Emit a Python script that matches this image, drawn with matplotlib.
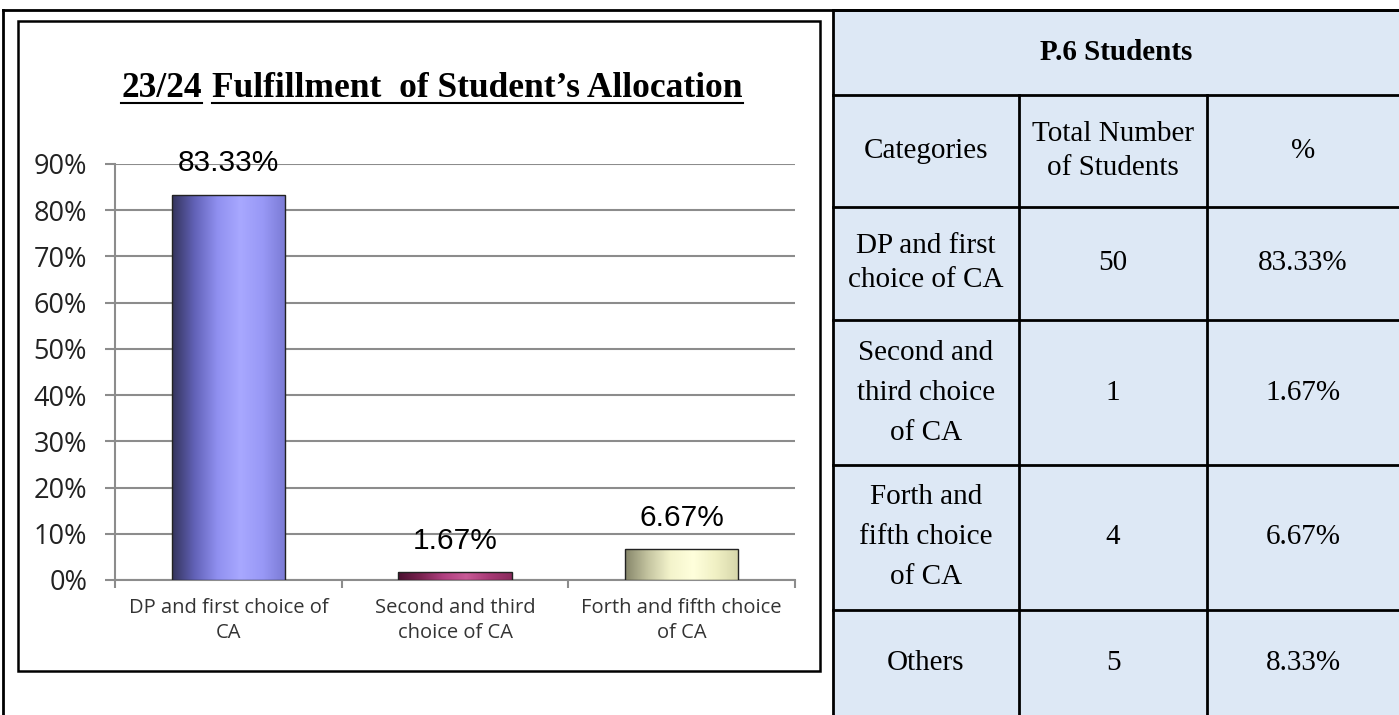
import numpy as np
import matplotlib
matplotlib.use("Agg")
import matplotlib.pyplot as plt
from matplotlib.colors import LinearSegmentedColormap
from matplotlib.ticker import FuncFormatter, FixedLocator

# chart data
categories = ["DP and first choice of\nCA", "Second and third\nchoice of CA", "Forth and fifth choice\nof CA"]
percent = [83.33, 1.67, 6.67]

# table data
table_title = "P.6 Students"
table_header = ["Categories", "Total Number\nof Students", "%"]
table_cats = ["DP and first\nchoice of CA", "Second and\nthird choice\nof CA", "Forth and\nfifth choice\nof CA", "Others"]
table_counts = [50, 1, 4, 5]
table_pct = [83.33, 1.67, 6.67, 8.33]

# cylinder-ish gradients for each bar
bar_grads = [
    ["#34345c", "#6262b8", "#9090f0", "#a8a8ff", "#9898f6", "#7a7ad4"],
    ["#4a1030", "#7a2350", "#b04080", "#c85a96", "#a83a76", "#8a2a5c"],
    ["#86866a", "#c4c4a0", "#f4f4cc", "#ffffdc", "#f0f0c4", "#d6d6aa"],
]

W, H = 1399, 715
fig = plt.figure(figsize=(W / 100, H / 100), dpi=100)


def fx(x):
    return x / W


def fy(y):
    return 1 - y / H


# outer frame lines and chart box
fig.add_artist(plt.Line2D([fx(3), fx(W)], [fy(10), fy(10)], color="black", lw=2))
fig.add_artist(plt.Line2D([fx(3), fx(3)], [fy(10), fy(H)], color="black", lw=2))
fig.add_artist(plt.Rectangle((fx(18), fy(671)), fx(820) - fx(18), fy(21) - fy(671),
                             fill=False, ec="black", lw=1.8))

# ---- bar chart ----
ax = fig.add_axes([fx(115), fy(580), fx(795) - fx(115), fy(164) - fy(580)])
x = np.arange(len(categories))
vals = np.array(percent) / 100
bars = ax.bar(x, vals, width=0.5, color="none", edgecolor="#222222", lw=1, zorder=4)
for i, b in enumerate(bars):
    cmap = LinearSegmentedColormap.from_list("g%d" % i, bar_grads[i])
    grad = np.linspace(0, 1, 256).reshape(1, -1)
    im = ax.imshow(grad, cmap=cmap, aspect="auto", zorder=3,
                   extent=[b.get_x(), b.get_x() + b.get_width(), 0, b.get_height()])
    im.set_clip_path(b)
    ax.annotate(f"{percent[i]:.2f}%", (b.get_x() + b.get_width() / 2, b.get_height()),
                xytext=(0, 17), textcoords="offset points", ha="center", va="baseline",
                fontsize=21.5, family="Liberation Sans", zorder=5)

ax.set_xlim(-0.5, len(categories) - 0.5)
ax.set_ylim(0, 0.9)
ax.yaxis.set_major_locator(FixedLocator(np.arange(0, 0.91, 0.1)))
ax.yaxis.set_major_formatter(FuncFormatter(lambda v, p: f"{v * 100:.0f}%"))
ax.grid(axis="y", color="#8c8c8c", lw=1.5, zorder=0)
ax.set_axisbelow(True)
for s in ["top", "right"]:
    ax.spines[s].set_visible(False)
for s in ["left", "bottom"]:
    ax.spines[s].set_color("#8c8c8c")
    ax.spines[s].set_linewidth(1.5)
ax.tick_params(axis="y", length=7, width=1.5, color="#8c8c8c", pad=13,
               labelsize=19.5, labelcolor="#222222")
ax.set_xticks(x)
ax.set_xticklabels(categories, fontsize=14.5, color="#333333", family="Open Sans", linespacing=1.35)
ax.tick_params(axis="x", which="major", length=0, pad=13)
ax.set_xticks(np.arange(-0.5, len(categories)), minor=True)
ax.tick_params(axis="x", which="minor", length=6, width=1.5, color="#8c8c8c")
for lab in ax.get_yticklabels():
    lab.set_family("Open Sans")

# title with underline, in two pieces like the original
t1 = fig.text(fx(121), fy(97), "23/24", fontsize=25.5, fontweight="bold",
              family="Liberation Serif", va="baseline", ha="left")
t2 = fig.text(fx(212), fy(97), "Fulfillment  of Student\u2019s Allocation", fontsize=25.5,
              fontweight="bold", family="Liberation Serif", va="baseline", ha="left")
r = fig.canvas.get_renderer()
for t in (t1, t2):
    bb = t.get_window_extent(renderer=r)
    fig.add_artist(plt.Line2D([bb.x0 / W, bb.x1 / W], [fy(103), fy(103)], color="black", lw=1.5))

# ---- table ----
cols = [833, 1019, 1207, W]
rows = [10, 95, 207, 320, 465, 610, H]
fill = "#dde8f5"
fig.add_artist(plt.Rectangle((fx(833), fy(H)), fx(W) - fx(833), fy(10) - fy(H),
                             fc=fill, ec="none", zorder=0))
lw = 2
# horizontal lines
for y in rows[:-1]:
    fig.add_artist(plt.Line2D([fx(833), fx(W)], [fy(y), fy(y)], color="black", lw=lw))
# vertical lines
fig.add_artist(plt.Line2D([fx(833), fx(833)], [fy(10), fy(H)], color="black", lw=lw))
for c in cols[1:3]:
    fig.add_artist(plt.Line2D([fx(c), fx(c)], [fy(rows[1]), fy(H)], color="black", lw=lw))


def cell(xc, yc, s, **kw):
    n = s.count("\n") + 1
    ls = 1.7 if n > 2 else 1.4
    fig.text(fx(xc), fy(yc), s, family="Liberation Serif", fontsize=21, ha="center",
             va="center", linespacing=ls, **kw)


cell((833 + W) / 2, (rows[0] + rows[1]) / 2, table_title, fontweight="bold")
for j, h in enumerate(table_header):
    cell((cols[j] + cols[j + 1]) / 2, (rows[1] + rows[2]) / 2, h)
for i in range(len(table_cats)):
    yc = (rows[i + 2] + rows[i + 3]) / 2
    cells = [table_cats[i], str(table_counts[i]), f"{table_pct[i]:.2f}%"]
    for j, s in enumerate(cells):
        cell((cols[j] + cols[j + 1]) / 2, yc, s)

fig.savefig("out.png", dpi=100)
